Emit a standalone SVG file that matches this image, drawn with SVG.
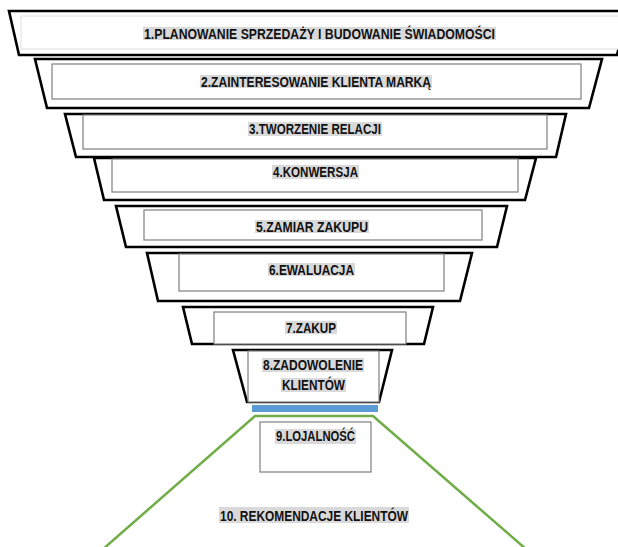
<svg xmlns="http://www.w3.org/2000/svg" width="618" height="547" viewBox="0 0 618 547">
<style>
.trap{fill:#ffffff;stroke:#000000;stroke-width:2.6;stroke-linejoin:miter}
.inner{fill:#ffffff;stroke:#7f7f7f;stroke-width:1.2}
.inner-light{fill:#ffffff;stroke:#e4e4e4;stroke-width:1.2}
.hl{fill:#d9d9d9}
.lbl{font-family:"Liberation Sans",Arial,sans-serif;font-weight:bold;font-size:14px;fill:#111111}
</style>
<rect x="0" y="0" width="618" height="547" fill="#ffffff"/>

<g id="stage1">
<polygon class="trap" points="9,11 628,11 617,55 19,55"/>
<rect class="inner-light" x="21" y="16" width="600" height="33"/>
<rect class="hl" x="143" y="27" width="353" height="13"/>
<text class="lbl" x="144" y="38.5" textLength="351" lengthAdjust="spacingAndGlyphs">1.PLANOWANIE SPRZEDAŻY I BUDOWANIE ŚWIADOMOŚCI</text>
</g>

<g id="stage2">
<polygon class="trap" points="35,59 602,59 589,108 47,108"/>
<rect class="inner" x="52" y="64" width="529" height="35"/>
<rect class="hl" x="200" y="75" width="232" height="13"/>
<text class="lbl" x="201" y="86.5" textLength="230" lengthAdjust="spacingAndGlyphs">2.ZAINTERESOWANIE KLIENTA MARKĄ</text>
</g>

<g id="stage3">
<polygon class="trap" points="65,114 566,114 556,157 76,157"/>
<rect class="inner" x="83" y="115" width="464" height="34"/>
<rect class="hl" x="248" y="122" width="134" height="14"/>
<text class="lbl" x="249" y="133.5" textLength="132" lengthAdjust="spacingAndGlyphs">3.TWORZENIE RELACJI</text>
</g>

<g id="stage4">
<polygon class="trap" points="94,158 536,158 525,200 104,200"/>
<rect class="inner" x="112" y="159" width="406" height="33"/>
<rect class="hl" x="272" y="165" width="87" height="14"/>
<text class="lbl" x="273" y="176.5" textLength="85" lengthAdjust="spacingAndGlyphs">4.KONWERSJA</text>
</g>

<g id="stage5">
<polygon class="trap" points="116,206 507,206 497,247 126,247"/>
<rect class="inner" x="144" y="210" width="338" height="30"/>
<rect class="hl" x="255" y="220" width="114" height="13"/>
<text class="lbl" x="256" y="231.5" textLength="112" lengthAdjust="spacingAndGlyphs">5.ZAMIAR ZAKUPU</text>
</g>

<g id="stage6">
<polygon class="trap" points="147,253 472,253 460,301 158,301"/>
<rect class="inner" x="179" y="254" width="265" height="37"/>
<rect class="hl" x="268" y="263" width="87" height="13"/>
<text class="lbl" x="269" y="274.5" textLength="85" lengthAdjust="spacingAndGlyphs">6.EWALUACJA</text>
</g>

<g id="stage7">
<polygon class="trap" points="183,307 433,307 424,344 192,344"/>
<rect class="inner" x="214" y="312" width="192" height="32"/>
<rect class="hl" x="285" y="321" width="52" height="13"/>
<text class="lbl" x="286" y="332.5" textLength="50" lengthAdjust="spacingAndGlyphs">7.ZAKUP</text>
</g>

<g id="stage8">
<polygon class="trap" points="233,350 392,350 379,402 247,402"/>
<rect class="inner" x="248" y="351" width="131" height="51"/>
<rect class="hl" x="262" y="358" width="102" height="14"/>
<text class="lbl" x="263" y="369.5" textLength="100" lengthAdjust="spacingAndGlyphs">8.ZADOWOLENIE</text>
<rect class="hl" x="281" y="378" width="65" height="14"/>
<text class="lbl" x="282" y="389.5" textLength="63" lengthAdjust="spacingAndGlyphs">KLIENTÓW</text>
</g>

<g id="stage-divider">
<rect x="252" y="405" width="126" height="7" fill="#5b9bd5"/>
</g>

<g id="connectors">
<polyline points="102,550 255,416 373,416 527,550" fill="none" stroke="#70ad47" stroke-width="2.5"/>
</g>

<g id="stage9">
<rect class="inner" x="260" y="422" width="111" height="50"/>
<rect class="hl" x="275" y="429" width="81" height="15"/>
<text class="lbl" x="276" y="440.5" textLength="79" lengthAdjust="spacingAndGlyphs">9.LOJALNOŚĆ</text>
</g>

<g id="stage10">
<rect class="hl" x="219" y="507" width="190" height="16"/>
<text class="lbl" x="220" y="520.5" textLength="188" lengthAdjust="spacingAndGlyphs">10. REKOMENDACJE KLIENTÓW</text>
</g>
</svg>
